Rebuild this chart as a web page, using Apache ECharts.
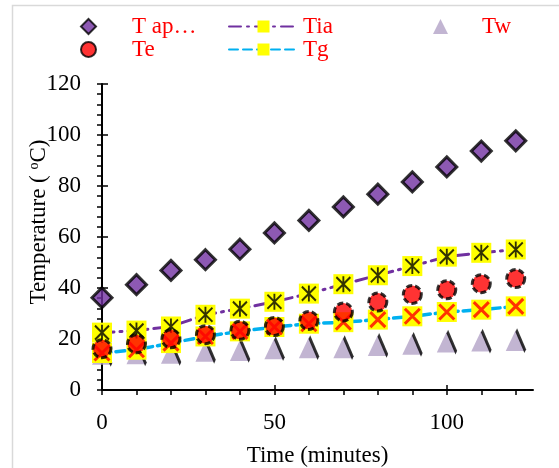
<!DOCTYPE html>
<html>
<head>
<meta charset="utf-8">
<script src="https://cdn.jsdelivr.net/npm/echarts@6/dist/echarts.min.js"></script>
<style>
  html, body { margin: 0; padding: 0; background: #fff; }
  #chart { width: 559px; height: 468px; }
</style>
</head>
<body>
<div id="chart"></div>
<script>
// time in minutes
var times = [0, 10, 20, 30, 40, 50, 60, 70, 80, 90, 100, 110, 120];
// temperatures
var tAp = [36.2, 41.3, 46.9, 51.1, 55.2, 61.6, 66.5, 71.8, 76.8, 81.6, 87.5, 93.7, 97.7];
var tIa = [22.5, 23.3, 24.9, 29.5, 31.9, 34.6, 37.8, 41.5, 45, 48.6, 52.3, 53.8, 55.1];
var tE = [16.2, 18.1, 20.1, 21.7, 23.4, 24.9, 27.3, 30.6, 34.5, 37.5, 39.3, 41.7, 43.7];
var tG = [14.5, 15.8, 18.4, 21, 23, 24.7, 26, 26.6, 27.6, 28.9, 30.6, 31.5, 32.8];
var tW = [14, 14.2, 14.4, 15.2, 15.5, 16.2, 16.6, 16.6, 17.5, 17.9, 18.8, 19.2, 19.4];
// axis ticks
var xLabels = [0, 50, 100];
var xMinor = [0, 10, 20, 30, 40, 50, 60, 70, 80, 90, 100, 110, 120];

var serif = 'Liberation Serif';
var fs = 23;

function pairs(arr) {
  return times.map(function (t, i) { return [t, arr[i]]; });
}

var chart = echarts.init(document.getElementById('chart'));

// one legend per entry, placed like the original's grid of entries
function legendAt(name, left, top, itemWidth, textPad) {
  return {
    data: [name],
    left: left,
    top: top,
    itemWidth: itemWidth,
    itemHeight: 15,
    padding: 0,
    textStyle: { fontFamily: serif, fontSize: fs, color: '#FF0000', padding: [0, 0, 0, textPad || 0] }
  };
}

chart.setOption({
  animation: false,
  graphic: [{
    type: 'rect',
    shape: { x: 12.5, y: 5.5, width: 600, height: 500 },
    style: { fill: 'none', stroke: '#D9D9D9', lineWidth: 1.5 },
    silent: true
  }],
  legend: [
    legendAt('T ap…', 80, 15, 15, 31),
    legendAt('Tia', 228, 15, 69),
    legendAt('Tw', 433, 15, 15, 29),
    legendAt('Te', 80, 38, 15, 31),
    legendAt('Tg', 228, 38, 69)
  ],
  grid: { left: 102, right: 26, top: 84, bottom: 78, outerBoundsMode: 'none' },
  xAxis: [{
    type: 'value',
    min: 0,
    max: 125,
    name: 'Time (minutes)',
    nameLocation: 'middle',
    nameGap: 54,
    nameTextStyle: { fontFamily: serif, fontSize: fs, color: '#000' },
    axisLine: { lineStyle: { color: '#000', width: 2 } },
    axisTick: { customValues: xMinor, length: 5, lineStyle: { color: '#000', width: 1.5 } },
    axisLabel: { customValues: xLabels, fontFamily: serif, fontSize: fs, color: '#000', margin: 21 },
    splitLine: { show: false }
  }, {
    type: 'value',
    min: 0,
    max: 125,
    position: 'bottom',
    offset: 0,
    axisLine: { show: false },
    axisTick: { customValues: xLabels, inside: true, length: 5, lineStyle: { color: '#000', width: 1.5 } },
    axisLabel: { show: false },
    splitLine: { show: false }
  }],
  yAxis: [{
    type: 'value',
    min: 0,
    max: 120,
    interval: 20,
    name: 'Temperature ( {sup|o}C)',
    nameLocation: 'middle',
    nameGap: 52,
    nameMoveOverlap: false,
    nameTextStyle: {
      fontFamily: serif, fontSize: fs, color: '#000',
      padding: [0, 0, 0, 30],
      rich: { sup: { fontFamily: serif, fontSize: 14, color: '#000', verticalAlign: 'top' } }
    },
    axisLine: { show: true, lineStyle: { color: '#000', width: 2 } },
    axisTick: { length: 5, lineStyle: { color: '#000', width: 1.5 } },
    minorTick: { show: true, splitNumber: 5, length: 5, lineStyle: { color: '#000', width: 1.5 } },
    axisLabel: { fontFamily: serif, fontSize: fs, color: '#000', margin: 21 },
    splitLine: { show: false }
  }, {
    type: 'value',
    min: 0,
    max: 120,
    interval: 20,
    position: 'left',
    offset: 0,
    axisLine: { show: false },
    axisTick: { inside: true, length: 6, lineStyle: { color: '#000', width: 1.5 } },
    axisLabel: { show: false },
    splitLine: { show: false }
  }],
  series: [{
    name: 'T ap…',
    type: 'scatter',
    z: 2,
    symbol: 'diamond',
    symbolSize: 20,
    itemStyle: { color: '#7030A0', borderColor: '#000', borderWidth: 3 },
    data: pairs(tAp)
  }, {
    name: 'Tw',
    type: 'scatter',
    z: 3,
    symbol: 'triangle',
    symbolSize: [20, 21],
    itemStyle: { color: '#B3A2C7' },
    data: pairs(tW)
  }, {
    name: 'Tw edge',
    type: 'scatter',
    z: 4,
    symbol: 'path://M0 0 L9 20',
    symbolSize: [9, 21],
    symbolOffset: [5, 0],
    silent: true,
    itemStyle: { color: 'none', borderColor: '#000', borderWidth: 3.5 },
    data: pairs(tW)
  }, {
    name: 'Tia',
    type: 'line',
    z: 5,
    symbol: 'rect',
    symbolSize: 20,
    itemStyle: { color: '#FFFF00' },
    lineStyle: { color: '#7030A0', width: 3, type: [12, 6, 2, 6], cap: 'round' },
    data: pairs(tIa)
  }, {
    name: 'Tia star',
    type: 'scatter',
    z: 6,
    symbol: 'path://M10 2 L10 18 M3 3 L17 17 M17 3 L3 17',
    symbolSize: [14, 16],
    silent: true,
    itemStyle: { color: 'none', borderColor: '#000', borderWidth: 2 },
    data: pairs(tIa)
  }, {
    name: 'Tg',
    type: 'line',
    z: 7,
    symbol: 'rect',
    symbolSize: 20,
    itemStyle: { color: '#FFFF00' },
    lineStyle: { color: '#00B0F0', width: 3.5, type: [9, 5], cap: 'round' },
    data: pairs(tG)
  }, {
    name: 'Tg x',
    type: 'scatter',
    z: 8,
    symbol: 'path://M0 0 L10 10 M10 0 L0 10',
    symbolSize: 15,
    silent: true,
    itemStyle: { color: 'none', borderColor: '#FF0000', borderWidth: 3 },
    data: pairs(tG)
  }, {
    name: 'Te',
    type: 'scatter',
    z: 9,
    symbol: 'circle',
    symbolSize: 18,
    itemStyle: { color: '#FF0000', borderColor: '#000', borderWidth: 3, borderType: [6, 3] },
    data: pairs(tE)
  }]
});
</script>
</body>
</html>
